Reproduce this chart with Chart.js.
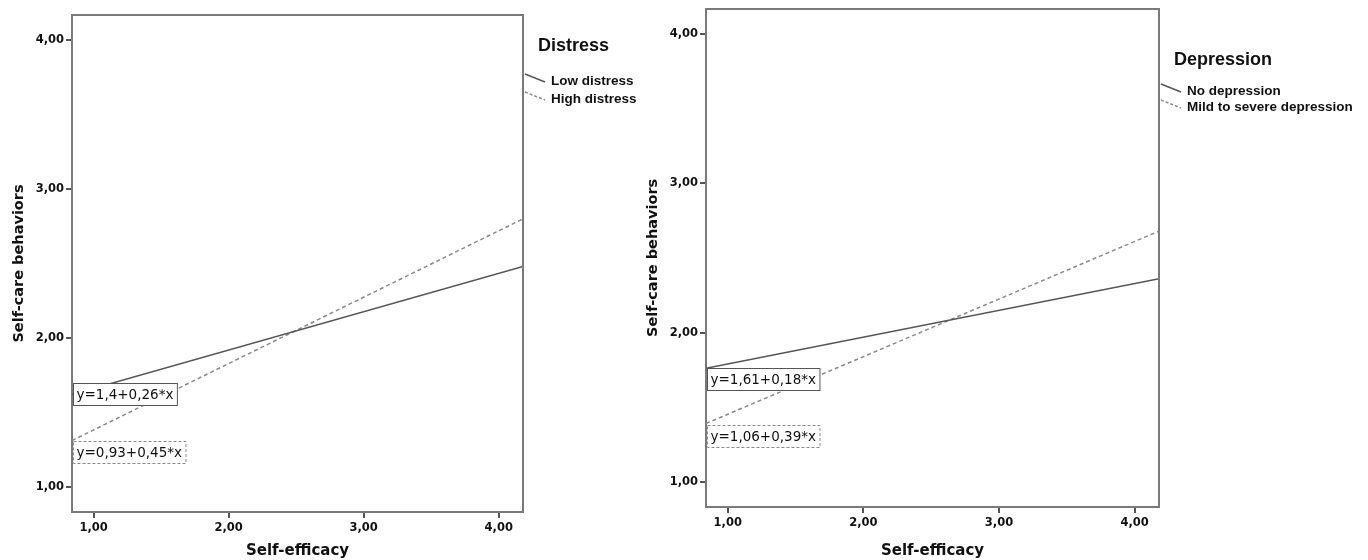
<!DOCTYPE html>
<html>
<head>
<meta charset="utf-8">
<script src="https://cdn.jsdelivr.net/npm/chart.js@4.4.1/dist/chart.umd.min.js"></script>
<style>
  html, body { margin: 0; padding: 0; background: #fff; }
  #wrap { position: relative; width: 1368px; height: 560px; overflow: hidden; }
  .box { position: absolute; top: 0; height: 560px; }
  #box1 { left: 0; width: 645px; }
  #box2 { left: 645px; width: 723px; }
</style>
</head>
<body>
<div id="wrap">
  <div class="box" id="box1"><canvas id="distressChart"></canvas></div>
  <div class="box" id="box2"><canvas id="depressionChart"></canvas></div>
</div>
<script>
// values
const xEnds = [0.84, 4.18];
const tickValues = [1, 2, 3, 4];
const tickLabels = ['1,00', '2,00', '3,00', '4,00'];

const distressLabels = ['Low distress', 'High distress'];
const lowDistress = [1.62, 2.48];
const highDistress = [1.31, 2.80];
const distressEquations = ['y=1,4+0,26*x', 'y=0,93+0,45*x'];

const depressionLabels = ['No depression', 'Mild to severe depression'];
const noDepression = [1.76, 2.36];
const mildDepression = [1.39, 2.68];
const depressionEquations = ['y=1,61+0,18*x', 'y=1,06+0,39*x'];

const AXIS = '#7a7a7a';
const TXT = '#111';

function points(ys) {
    return xEnds.map((x, i) => ({ x: x, y: ys[i] }));
}

// draws the box frame, the equation labels and the spss style legend
const spssDecor = {
    id: 'spssDecor',
    afterDatasetsDraw(chart, args, opts) {
        const ctx = chart.ctx;
        const a = chart.chartArea;
        const ys = chart.scales.y;

        ctx.save();
        // top + right border
        ctx.strokeStyle = AXIS;
        ctx.lineWidth = 2;
        ctx.beginPath();
        ctx.moveTo(a.left, a.top);
        ctx.lineTo(a.right, a.top);
        ctx.lineTo(a.right, a.bottom);
        ctx.stroke();

        // equation boxes
        ctx.font = '13.5px "DejaVu Sans", sans-serif';
        ctx.textBaseline = 'middle';
        opts.equations.forEach((eq, i) => {
            const top = Math.round(ys.getPixelForValue(opts.eqAt[i])) + 0.5;
            const w = ctx.measureText(eq).width + 7;
            const h = 22;
            const left = a.left + 1.5;
            ctx.fillStyle = '#fff';
            ctx.fillRect(left, top, w, h);
            ctx.lineWidth = 1;
            ctx.strokeStyle = i === 0 ? '#555' : '#8a8a8a';
            ctx.setLineDash(i === 0 ? [] : [3, 2]);
            ctx.strokeRect(left, top, w, h);
            ctx.setLineDash([]);
            ctx.fillStyle = TXT;
            ctx.textAlign = 'left';
            ctx.fillText(eq, left + 3, top + h / 2 + 1);
        });

        // legend
        const lx = a.right + 2;
        ctx.fillStyle = TXT;
        ctx.font = 'bold 18px "Liberation Sans", Arial, sans-serif';
        ctx.fillText(opts.title, a.right + 15, opts.legendTop);
        ctx.font = 'bold 13.5px "Liberation Sans", Arial, sans-serif';
        opts.items.forEach((name, i) => {
            const y0 = opts.legendTop + opts.itemOffset + i * opts.itemGap;
            ctx.strokeStyle = i === 0 ? '#555' : '#8a8a8a';
            ctx.lineWidth = 1.5;
            ctx.setLineDash(i === 0 ? [] : [3, 2]);
            ctx.beginPath();
            ctx.moveTo(lx, y0 - 6);
            ctx.lineTo(lx + 20, y0 + 2);
            ctx.stroke();
            ctx.setLineDash([]);
            ctx.fillText(name, a.right + 28, y0 + 1);
        });
        ctx.restore();
    }
};

function makeChart(canvasId, names, seriesA, seriesB, decor, layout) {
    const canvas = document.getElementById(canvasId);
    const ctx = canvas.getContext('2d');

    return new Chart(ctx, {
        type: 'scatter',
        data: {
            datasets: [{
                label: names[0],
                data: points(seriesA),
                showLine: true,
                borderColor: '#555',
                borderWidth: 1.5,
                pointRadius: 0
            }, {
                label: names[1],
                data: points(seriesB),
                showLine: true,
                borderColor: '#8a8a8a',
                borderWidth: 1.5,
                borderDash: [4, 3],
                pointRadius: 0
            }]
        },
        options: {
            responsive: true,
            maintainAspectRatio: false,
            animation: false,
            clip: true,
            layout: { padding: layout.padding },
            plugins: {
                legend: { display: false },
                tooltip: { enabled: false },
                spssDecor: decor
            },
            scales: {
                x: {
                    type: 'linear',
                    min: 0.84,
                    max: 4.18,
                    afterBuildTicks: s => { s.ticks = tickValues.map(v => ({ value: v })); },
                    afterFit: s => { s.height = layout.xHeight; },
                    grid: { drawOnChartArea: false, color: '#555', tickLength: 6, lineWidth: 2 },
                    border: { color: AXIS, width: 2 },
                    ticks: {
                        color: TXT,
                        padding: 3,
                        font: { family: 'DejaVu Sans', size: 11.5, weight: 'bold' },
                        callback: v => tickLabels[tickValues.indexOf(v)]
                    },
                    title: {
                        display: true,
                        text: 'Self-efficacy',
                        color: TXT,
                        padding: { top: 4, bottom: 0 },
                        font: { family: 'DejaVu Sans', size: 15, weight: 'bold' }
                    }
                },
                y: {
                    type: 'linear',
                    min: 0.83,
                    max: 4.17,
                    afterBuildTicks: s => { s.ticks = tickValues.map(v => ({ value: v })); },
                    afterFit: s => { s.width = layout.yWidth; },
                    grid: { drawOnChartArea: false, color: '#555', tickLength: 6, lineWidth: 2 },
                    border: { color: AXIS, width: 2 },
                    ticks: {
                        color: TXT,
                        padding: 2,
                        font: { family: 'DejaVu Sans', size: 11.5, weight: 'bold' },
                        callback: v => tickLabels[tickValues.indexOf(v)]
                    },
                    title: {
                        display: true,
                        text: 'Self-care behaviors',
                        color: TXT,
                        padding: { top: layout.yTitlePad, bottom: 0 },
                        font: { family: 'DejaVu Sans', size: 14.5, weight: 'bold' }
                    }
                }
            }
        },
        plugins: [spssDecor]
    });
}

makeChart('distressChart', distressLabels, lowDistress, highDistress, {
    title: 'Distress',
    items: distressLabels,
    equations: distressEquations,
    eqAt: [1.70, 1.31],
    legendTop: 46,
    itemOffset: 34,
    itemGap: 18
}, {
    padding: { left: 0, top: 15, right: 122, bottom: 0 },
    xHeight: 48,
    yWidth: 72,
    yTitlePad: 11
});

makeChart('depressionChart', depressionLabels, noDepression, mildDepression, {
    title: 'Depression',
    items: depressionLabels,
    equations: depressionEquations,
    eqAt: [1.76, 1.38],
    legendTop: 60,
    itemOffset: 30,
    itemGap: 16
}, {
    padding: { left: 0, top: 8, right: 209, bottom: 0 },
    xHeight: 53,
    yWidth: 61,
    yTitlePad: 0
});
</script>
</body>
</html>
